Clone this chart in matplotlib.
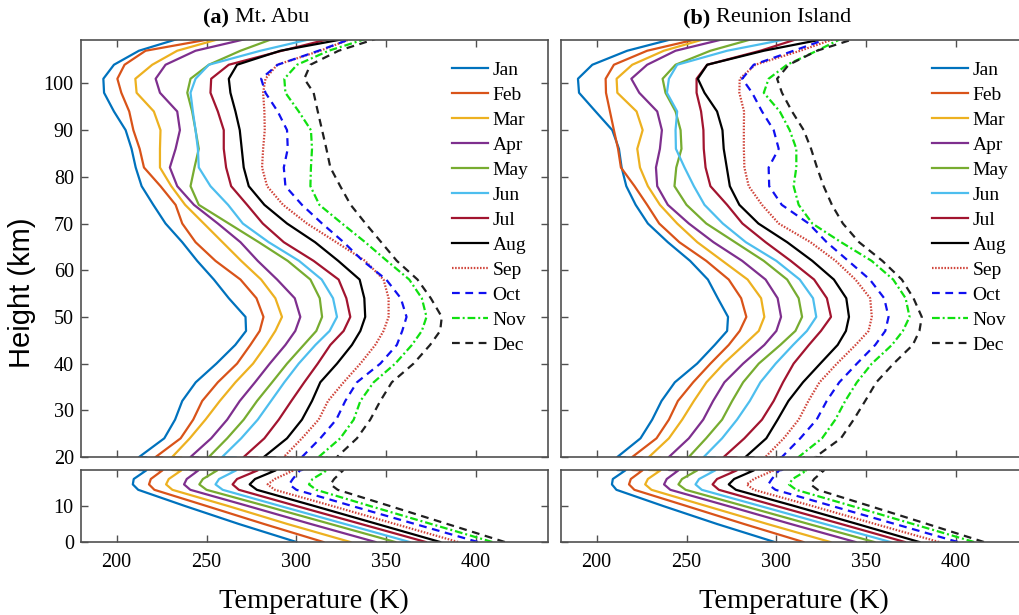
import matplotlib
matplotlib.use("Agg")
import matplotlib.pyplot as plt

# ---------------- data ----------------
MONTHS = ["Jan", "Feb", "Mar", "Apr", "May", "Jun",
          "Jul", "Aug", "Sep", "Oct", "Nov", "Dec"]

# altitude (km) at which each profile value was read
HEIGHTS = [0, 5, 10, 14.5, 16, 17.5, 19.9,
           20, 24, 28, 32, 36, 40, 44, 47, 50, 54, 58, 62, 66, 70, 74, 78,
           82, 86, 90, 94, 98, 101, 104, 107, 109.5]

# Mt. Abu profiles (K, as displayed)
abu_jan = [300, 268, 238, 212, 209, 209.5, 216.5,
           212.5, 226.5, 232.5, 236.5, 244, 255.5, 266, 272, 271.7, 262.4, 254.1, 244.8, 236.5, 227.2, 220.4, 213.9,
           210.6, 208.3, 205, 198.5, 193, 192.6, 198.5, 212.4, 233.7]
abu_feb = [315, 282, 250, 221, 218, 219, 225.5,
           221.7, 235.6, 242.6, 247.6, 256.3, 267, 274.4, 279.6, 281.7, 277.8, 268.9, 255, 243.9, 236.5, 232.8, 224.4,
           215.2, 212.8, 209.3, 207, 202.6, 200.4, 204.4, 216.1, 252.2]
abu_mar = [330, 295, 262, 231, 227.5, 229, 236,
           230.9, 240.7, 249.4, 257.4, 266.1, 275.9, 283.3, 288.3, 292, 288.3, 280.4, 269.3, 258.9, 248.5, 238.1, 230.4,
           224.1, 224.1, 224.4, 220.7, 211.1, 210.4, 219.8, 233.7, 256.9]
abu_apr = [344, 308, 273, 241, 237.5, 239, 245.5,
           241.1, 252.6, 261.5, 268.5, 277, 285.2, 293.9, 299.4, 302.2, 299.1, 289.3, 278.5, 268.9, 256.3, 243, 233.7,
           229.6, 232.8, 235.2, 233.7, 224.1, 221.7, 227.2, 243.9, 271.7]
abu_may = [355, 319, 283, 250, 246, 248, 256,
           251.3, 261.5, 270.7, 278.1, 286.5, 294.8, 304.1, 311.1, 314.3, 313, 307.8, 295.2, 279.1, 262.4, 245.7, 241.1,
           243.3, 245.7, 243.9, 242, 239.3, 241.1, 251.3, 268.9, 286.5]
abu_jun = [363, 327, 291, 259, 255, 257, 266.5,
           258.7, 269.3, 278.5, 285.9, 293.3, 301.3, 310.6, 318.5, 322.6, 320.4, 314.1, 301.5, 284.6, 270.2, 262, 252.2,
           245.7, 245.2, 243.9, 242.4, 241.1, 243.9, 251.3, 280, 307.8]
abu_jul = [372, 336, 300, 268, 264.5, 267, 278.5,
           270.7, 282.2, 290.2, 297.2, 304.4, 311.9, 318.9, 326.3, 330, 327.8, 323.5, 309.6, 293, 281.3, 272.6, 263.7,
           260.9, 259.6, 259.6, 256.3, 252.2, 252.6, 262.4, 292, 318]
abu_aug = [380, 345, 310, 278, 274, 277, 288.5,
           281.9, 294.8, 303.1, 308.7, 313.3, 322.6, 330.9, 335.6, 338.3, 337.8, 335.2, 323.3, 310.4, 294.8, 282.2, 273.5,
           270.7, 269.6, 268.5, 266.1, 263.3, 262.4, 267, 291.1, 326.3]
abu_sep = [390, 355, 320, 288, 284, 288, 298.5,
           293, 303.1, 312.4, 317.6, 326.3, 335.6, 343.9, 348.5, 351.3, 351.3, 348.5, 338.3, 322.2, 305.9, 292.6, 283.7,
           280.9, 281.5, 282.4, 282.2, 281.5, 282.8, 289.3, 313.3, 330]
abu_oct = [401, 366, 331, 300, 296, 298, 302,
           303.1, 313.3, 322.2, 327.2, 333.7, 346.7, 355.9, 358.9, 361.3, 358.1, 350, 337, 326.3, 314.3, 303.1, 293.9,
           293, 295.2, 294.8, 289.6, 282.8, 280.4, 289.6, 312.4, 330]
abu_nov = [409, 375, 341, 311, 307, 309, 317,
           312.4, 324.4, 331.9, 335.6, 343, 355, 364.3, 369.8, 372.4, 369.8, 362.8, 350.4, 338.3, 325.4, 312.8, 307.8,
           308.1, 308.7, 308.1, 301.3, 293.9, 293.3, 300.4, 318, 338.3]
abu_dec = [416, 384, 352, 323, 319, 321, 326,
           322.6, 333.7, 341.1, 346.7, 353.1, 365.2, 374.4, 380, 380.9, 374.8, 367.4, 355.9, 347.2, 338.5, 330.2, 324.4,
           318.9, 316.7, 314.3, 311.9, 309.6, 304.4, 307.8, 323.5, 343.9]

# Reunion Island profiles (K, as displayed)
reu_jan = [299, 267, 237, 211, 208.5, 209, 216,
           211.5, 224.4, 230.9, 236.1, 243.5, 255.9, 265.7, 272.6, 273.1, 267.4, 261.9, 252, 239.6, 228.5, 221.7, 216.5,
           213.9, 212.4, 208.7, 199.4, 190.2, 189.6, 197.6, 217, 242]
reu_feb = [315, 282, 250, 221, 218, 219, 225.5,
           219.8, 233.3, 240.2, 245.2, 253.7, 263.3, 273.5, 279.6, 283.3, 280.4, 273.5, 261, 246, 234.8, 228.1, 221.1,
           213.5, 211.9, 209.6, 207.4, 205.2, 205, 209.6, 228.1, 255.9]
reu_mar = [330, 295, 261, 230.5, 227, 228.5, 235.5,
           229.1, 240.2, 247.6, 254.1, 261.1, 270.7, 281.9, 290.2, 293.3, 291.5, 284, 270, 256, 244.8, 235.2, 228.5,
           224.1, 222.6, 225.6, 222.2, 211.5, 211.1, 219.8, 237.4, 260]
reu_apr = [344, 308, 273, 241, 237.5, 239, 245.5,
           240.2, 251.3, 259.3, 264.8, 271.1, 281.5, 293.3, 300, 302.6, 300.7, 294, 281, 265, 251.3, 239.6, 233.7,
           233, 235.2, 236.3, 233.7, 223.7, 219.3, 228.1, 243.9, 270.7]
reu_may = [354.5, 318, 282, 249.5, 245.5, 247.5, 256,
           251.3, 260.9, 269.8, 275.4, 281.5, 290.2, 302.2, 310.6, 314.3, 312.4, 306, 293, 277, 261, 250, 243.3,
           244.3, 247.2, 246.7, 243.9, 238.3, 236.7, 243.9, 263.3, 286.5]
reu_jun = [363.5, 327, 291, 258.5, 255, 257, 266,
           259.6, 269.8, 278.1, 285.2, 291.1, 299.6, 309.3, 317, 322.2, 320.4, 313, 300, 283, 270.2, 260, 254.1,
           248.9, 244.1, 243.9, 244.8, 239.1, 240.2, 244.8, 272.6, 305.9]
reu_jul = [371.5, 336, 300, 268, 264.5, 267, 278,
           270.7, 282.2, 292, 298.5, 303.7, 309.6, 318.1, 324.8, 330.4, 328.1, 321, 308, 294, 281.1, 272.6, 263.3,
           260.6, 259.6, 259.4, 258.1, 255.6, 255.6, 261.5, 291.1, 311.5]
reu_aug = [379.5, 345, 310, 277.5, 273.5, 276.5, 287.5,
           282.8, 294.4, 300.7, 306.7, 314.8, 324.4, 334.1, 338.7, 340.4, 338.9, 332, 320, 306, 290, 279.4, 274.1,
           272.4, 270.7, 270, 267, 260, 256.3, 261.5, 293, 326.3]
reu_sep = [390.5, 355, 320, 287.5, 283.5, 287.5, 298.5,
           293.9, 304.1, 312.4, 317.8, 324, 333.7, 344.1, 351.3, 353.1, 352.2, 344, 333, 319, 301.3, 292, 284.6,
           282.2, 281.9, 281.9, 282, 279.4, 279.6, 288.3, 313.3, 331.9]
reu_oct = [401, 366, 331, 299.5, 295.5, 297.5, 301.5,
           303.1, 313.3, 322.4, 328, 335, 344.8, 355, 360.6, 362.4, 360, 352, 340, 328, 318, 303, 296,
           295.7, 301.3, 298.5, 292, 286.5, 281, 287.4, 309.6, 328]
reu_nov = [410, 376, 342, 311, 307, 309, 317,
           312.4, 325.4, 332.8, 338.3, 344.8, 353.1, 364.3, 370.4, 374.1, 371.9, 365, 353, 336, 320, 312.4, 309.6,
           311.1, 311.1, 307.4, 301.9, 293, 295.7, 305.9, 322.6, 335.6]
reu_dec = [415.5, 384, 352, 323, 319, 321, 326.5,
           321.7, 335.9, 343, 349.4, 355.6, 365.2, 375.9, 379.6, 380.9, 376.3, 369.8, 359, 346, 337, 330.9, 326.3,
           322.6, 319.3, 315.2, 308.7, 303.1, 300.4, 306.9, 322.6, 343]

ABU = [abu_jan, abu_feb, abu_mar, abu_apr, abu_may, abu_jun,
       abu_jul, abu_aug, abu_sep, abu_oct, abu_nov, abu_dec]
REU = [reu_jan, reu_feb, reu_mar, reu_apr, reu_may, reu_jun,
       reu_jul, reu_aug, reu_sep, reu_oct, reu_nov, reu_dec]

X_TICKS = [200, 250, 300, 350, 400]
Y_TICKS_UP = [20, 30, 40, 50, 60, 70, 80, 90, 100]
Y_TICKS_LOW = [0, 10]

# ---------------- styles ----------------
STYLES = [
    dict(color="#0072BD", ls="-"),
    dict(color="#D95319", ls="-"),
    dict(color="#EDB120", ls="-"),
    dict(color="#7E2F8E", ls="-"),
    dict(color="#77AC30", ls="-"),
    dict(color="#4DBEEE", ls="-"),
    dict(color="#A2142F", ls="-"),
    dict(color="#000000", ls="-"),
    dict(color="#D0443A", ls=(0, (0.7, 0.7))),
    dict(color="#1010F0", ls=(0, (3.5, 2.5))),
    dict(color="#10E010", ls=(0, (3.5, 1.3, 0.9, 1.3))),
    dict(color="#202020", ls=(0, (3.5, 2.5))),
]
LW = 1.6
SERIF = ["Liberation Serif", "DejaVu Serif"]
SANS = ["Liberation Sans", "DejaVu Sans"]
SPINE = "#505050"

W, H = 1019, 615
fig = plt.figure(figsize=(W / 100, H / 100), dpi=100)


def rect(l, t, r, b):
    return [l / W, 1 - b / H, (r - l) / W, (b - t) / H]


def style_axis(ax, xlabels, ylabels):
    for s in ax.spines.values():
        s.set_color(SPINE)
        s.set_linewidth(1.2)
    ax.tick_params(direction="in", top=True, right=True, length=5, width=1.0,
                   color=SPINE, labelsize=14.5, pad=5,
                   labelbottom=xlabels, labelleft=ylabels)
    ax.tick_params(axis="x", pad=8)
    for lab in ax.get_xticklabels() + ax.get_yticklabels():
        lab.set_family(SERIF)


panels = [
    (80.7, 548.0, ABU, True, "(a)", "Mt. Abu", 203, 235),
    (560.7, 1028.0, REU, False, "(b)", "Reunion Island", 683, 716),
]

for left, right, data, ylab, tag, name, tx, nx in panels:
    up = fig.add_axes(rect(left, 40, right, 457))
    lo = fig.add_axes(rect(left, 470, right, 542))
    lines = []
    for prof, st, m in zip(data, STYLES, MONTHS):
        ln, = up.plot(prof, HEIGHTS, color=st["color"], linestyle=st["ls"], lw=LW, label=m)
        lo.plot(prof, HEIGHTS, color=st["color"], linestyle=st["ls"], lw=LW)
        lines.append(ln)
    for ax in (up, lo):
        ax.set_xlim(180, 440)
        ax.set_xticks(X_TICKS)
    up.set_ylim(20, 109.3)
    up.set_yticks(Y_TICKS_UP)
    lo.set_ylim(0, 20)
    lo.set_yticks(Y_TICKS_LOW)
    style_axis(up, False, ylab)
    style_axis(lo, True, ylab)
    lo.set_xlabel("Temperature (K)", fontsize=20.5, family=SERIF, labelpad=12)

    leg = up.legend(handles=lines, loc="upper left",
                    bbox_to_anchor=((left + 371) / W, 1 - 61 / H),
                    bbox_transform=fig.transFigure, frameon=False,
                    prop=dict(family=SERIF, size=14), handlelength=1.85,
                    handletextpad=0.25, labelspacing=0.38, borderpad=0,
                    borderaxespad=0)

    fig.text(tx / W, 1 - 18 / H, tag, fontsize=16, fontweight="bold",
             family=SERIF, ha="left", va="center")
    fig.text(nx / W, 1 - 18 / H, name, fontsize=16, family=SERIF,
             ha="left", va="center")

fig.text(22 / W, 1 - 293 / H, "Height (km)", rotation=90, fontsize=21,
         family=SANS, ha="center", va="center")

fig.savefig("out.png", dpi=100)
